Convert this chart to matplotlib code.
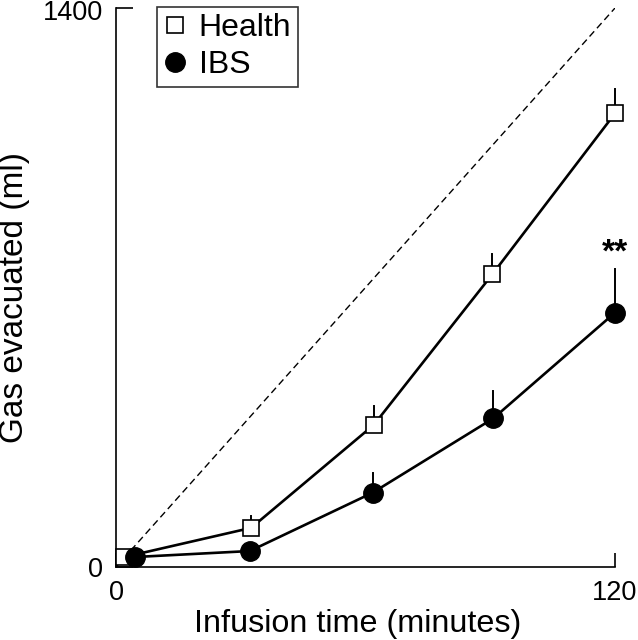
import matplotlib
matplotlib.use("Agg")
import matplotlib.pyplot as plt

plt.rcParams['font.family'] = ['Liberation Sans', 'DejaVu Sans']

health_x = [2, 32.5, 62, 90.5, 120]
health_y = [25, 98, 356, 733, 1136]
health_err = [0, 30, 47, 50, 61]

ibs_x = [4.6, 32.2, 61.7, 90.7, 120]
ibs_y = [25, 40, 186, 372, 637]
ibs_err = [0, 5, 50, 69, 109]

identity_x = [0, 120]
identity_y = [0, 1400]

xticks = [0, 120]
yticks = [0, 1400]

W, H = 638, 640
fig = plt.figure(figsize=(W/100, H/100), dpi=100)
ax = fig.add_axes([116/W, 73/H, (615-116)/W, (567-8)/H])

ax.plot(identity_x, identity_y, color='black', lw=1.0, ls=(0, (5, 3)), zorder=1)

# error bars (upper only)
for x, y, e in zip(health_x, health_y, health_err):
    if e > 0:
        ax.plot([x, x], [y, y + e], color='black', lw=1.4, zorder=2, clip_on=False)
for x, y, e in zip(ibs_x, ibs_y, ibs_err):
    if e > 0:
        ax.plot([x, x], [y, y + e], color='black', lw=1.4, zorder=2, clip_on=False)

ax.plot(health_x, health_y, color='black', lw=1.9, marker='s', ms=12,
        mfc='white', mec='black', mew=1.2, label='Health', zorder=3, clip_on=False)
ax.plot(ibs_x, ibs_y, color='black', lw=1.9, marker='o', ms=14,
        mfc='black', mec='black', label='IBS', zorder=4, clip_on=False)

ax.text(120, 786, '**', ha='center', va='center', fontsize=24, fontweight='bold')

ax.set_xlim(0, 120)
ax.set_ylim(0, 1400)
ax.set_xticks(xticks)
ax.set_yticks(yticks)
ax.set_xticklabels([str(v) for v in xticks], fontsize=19.5)
ax.set_yticklabels(['0', ''], fontsize=19.5)
ax.tick_params(direction='in', length=10, width=1.2)
ax.tick_params(axis='x', pad=9)
ax.tick_params(axis='y', length=12, pad=9.5)
for s in ['top', 'right']:
    ax.spines[s].set_visible(False)
for s in ['left', 'bottom']:
    ax.spines[s].set_linewidth(1.2)

# top y tick label drawn slightly lower so it is not cut by the figure edge
fig.text(103/W, 1 - 20/H, str(yticks[1]), fontsize=19.5, ha='right', va='baseline')

fig.text(358/W, 1 - 624/H, 'Infusion time (minutes)', fontsize=23.3,
         ha='center', va='center')
fig.text(15/W, 1 - 297.5/H, 'Gas evacuated (ml)', fontsize=24,
         ha='center', va='center', rotation=90)

leg = ax.legend(loc='upper left', bbox_to_anchor=((157-116)/499, (567-7)/559),
                fontsize=23, frameon=True, fancybox=False, edgecolor='black',
                handlelength=0.7, handletextpad=0.4, borderpad=0.2,
                labelspacing=0.22, borderaxespad=0.0)
leg.get_frame().set_linewidth(1.2)
for h in leg.get_lines():
    h.set_linestyle('none')

fig.savefig('out.png', dpi=100)
